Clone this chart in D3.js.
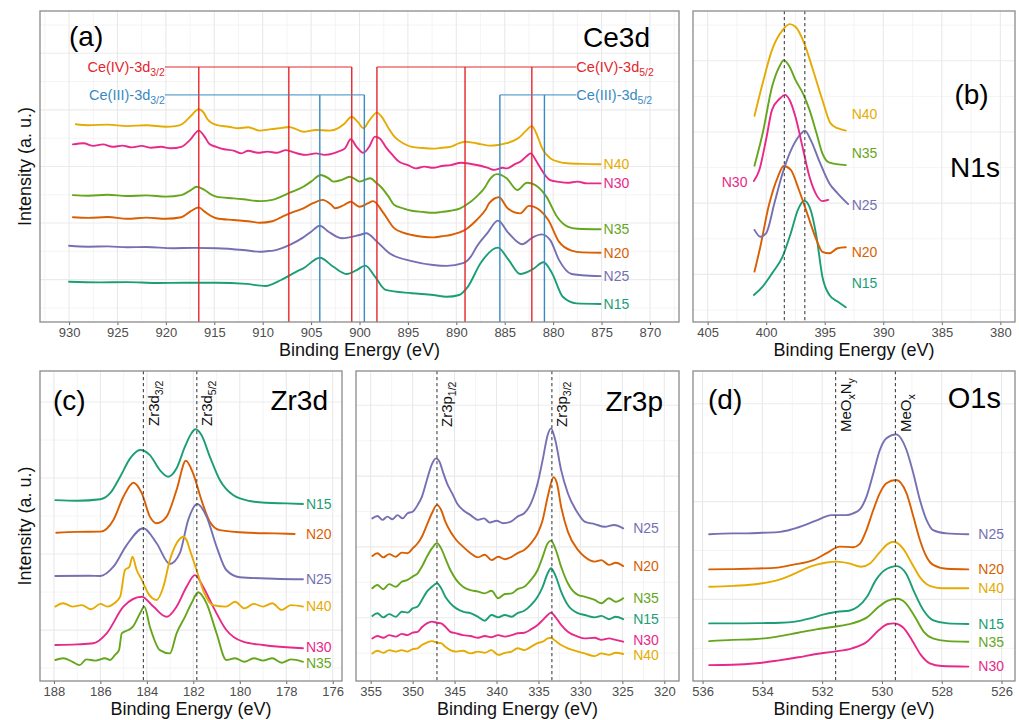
<!DOCTYPE html>
<html>
<head>
<meta charset="utf-8">
<script src="https://cdn.jsdelivr.net/npm/d3@7"></script>
<style>
  body { margin: 0; background: #fff; }
  svg { display: block; }
  text { font-family: "Liberation Sans", Arial, Helvetica, sans-serif; }
</style>
</head>
<body>
<svg id="fig" width="1019" height="720"></svg>
<script>
// ---------- samples ----------
const samples = ["N15", "N20", "N25", "N30", "N35", "N40"];

// ---------- tick labels (binding energy, eV) ----------
const ticksCe3d = [930, 925, 920, 915, 910, 905, 900, 895, 890, 885, 880, 875, 870];
const ticksN1s  = [405, 400, 395, 390, 385, 380];
const ticksZr3d = [188, 186, 184, 182, 180, 178, 176];
const ticksZr3p = [355, 350, 345, 340, 335, 330, 325, 320];
const ticksO1s  = [536, 534, 532, 530, 528, 526];

// ---------- Ce3d spectra [binding energy, stacked intensity] ----------
const ce3dN40 = [[929.3,65.9],[928,65.6],[926,65.8],[924,65.3],[922,65.6],[920,65.1],[919,65.3],[918.3,66.0],[917.5,68.4],[916.6,70.9],[916.1,69.8],[915.7,67.6],[914.8,65.7],[913.5,65.1],[912.5,64.6],[911.5,64.9],[910.3,63.8],[909.3,64.2],[908,64.7],[907.3,65.0],[906.5,64.2],[905.8,63.4],[904.5,64.0],[903.1,63.8],[902.2,64.6],[901.6,66.0],[900.8,68.4],[900.2,66.8],[899.6,64.6],[899.0,67.1],[898.2,69.8],[897.7,68.4],[897.0,64.6],[896.4,61.8],[895.5,59.6],[894.6,58.4],[893.5,58.0],[892.4,57.8],[891.5,58.1],[890.6,58.4],[889.7,59.6],[889.0,60.1],[888.3,59.8],[887.5,59.3],[886.6,58.8],[885.7,59.0],[884.8,59.6],[883.9,60.7],[883.4,61.8],[882.8,63.8],[882.2,65.3],[881.6,61.8],[881.2,58.4],[880.3,54.6],[879.4,53.4],[878.5,52.9],[877,52.7],[875.1,52.6]];
const ce3dN30 = [[929.6,59.2],[928.5,59.6],[927.5,58.7],[926.5,59.2],[925.5,58.4],[924.5,58.8],[923.5,58.2],[922.5,58.7],[921.5,58.1],[920.5,58.4],[919.5,57.9],[918.4,58.4],[917.5,60.7],[916.6,63.8],[916.0,61.8],[915.5,59.3],[914.8,58.4],[914,57.6],[913,57.1],[912.2,56.2],[911.5,57.1],[910.5,56.4],[909.5,56.8],[908.5,56.4],[907.6,57.3],[907,56.8],[906.2,56.0],[905.5,55.7],[904.5,56.2],[903.6,55.7],[902.7,56.2],[902.2,56.8],[901.5,57.9],[900.9,60.9],[900.3,58.4],[899.6,56.4],[899.0,58.4],[898.4,61.8],[897.9,61.2],[897.3,58.4],[896.6,55.7],[895.9,53.4],[895,52.3],[894.2,51.2],[893.3,51.8],[892.4,51.4],[891.5,52.0],[890.6,52.3],[889.5,53.1],[888.5,52.7],[887.5,52.1],[886.6,51.2],[886.1,50.7],[885.2,51.4],[884.8,51.2],[883.9,52.7],[883.4,53.4],[882.8,55.1],[882.3,56.2],[881.8,54.0],[881.4,51.8],[880.3,47.3],[879.4,46.7],[878.5,46.4],[877.5,46.8],[876.5,46.2],[875.1,46.2]];
const ce3dN35 = [[929.6,42.3],[928,42.1],[926,42.4],[924,42.0],[922,42.2],[920,41.8],[918.4,42.3],[917.5,43.8],[916.8,45.1],[916.0,44.0],[915.2,42.3],[914.8,41.8],[913,41.2],[912,40.9],[910.3,40.3],[909,40.7],[908.1,41.8],[907.2,43.1],[905.8,45.1],[905,46.8],[904.0,49.0],[903.2,47.9],[902.7,46.8],[901.9,47.3],[901.0,48.4],[900.3,47.3],[900.0,46.8],[898.9,47.9],[898.2,46.2],[897.8,45.1],[897,41.8],[896.4,39.0],[895.5,37.9],[894.6,37.1],[893.5,36.7],[892.4,36.4],[891.5,36.7],[890.6,37.1],[889.6,37.9],[889.0,39.0],[887.9,41.8],[887.0,45.1],[886.6,47.3],[885.8,49.3],[884.8,47.9],[883.7,44.0],[882.7,46.4],[881.6,45.1],[880.7,41.8],[879.6,35.1],[878.5,31.8],[877.5,31.1],[875.1,30.9]];
const ce3dN20 = [[929.6,34.9],[928,34.7],[926,35.0],[924,34.4],[922,34.8],[920,34.4],[918.4,34.9],[917.5,36.8],[916.6,38.2],[916.0,36.8],[915.2,35.1],[914.8,34.6],[913,34.0],[911.5,33.6],[910.3,33.1],[909,33.6],[908.1,34.9],[907.2,36.2],[905.8,37.9],[904.8,39.6],[903.8,40.7],[903.0,39.3],[902.5,37.9],[901.6,39.0],[900.9,40.1],[900.0,38.4],[899.1,39.6],[898.6,40.3],[897.5,36.2],[896.4,31.2],[895.5,29.8],[894.6,29.0],[893.5,28.4],[892.4,28.2],[891.5,28.6],[890.6,29.0],[889.0,30.9],[887.9,34.0],[887.0,37.3],[886.6,39.6],[885.6,41.6],[884.7,37.9],[883.4,36.2],[882.5,38.7],[881.4,37.3],[880.5,34.0],[879.4,26.8],[878.1,23.8],[877,23.2],[875.1,23.1]];
const ce3dN25 = [[930,25.4],[928,25.1],[926,25.2],[924,24.9],[922,25.0],[919.3,24.6],[917,24.7],[914.8,24.6],[912,24.0],[910.3,23.4],[909.6,23.6],[908.9,23.8],[907.2,25.7],[905.8,28.2],[905,30.1],[904.1,32.1],[903.2,30.1],[901.8,27.9],[900.0,29.0],[899.3,29.6],[898.2,26.8],[896.9,22.9],[894.6,20.3],[892.4,19.0],[891.0,18.7],[889.3,19.6],[888.5,21.8],[887.9,25.1],[886.8,29.6],[885.7,33.8],[884.6,29.6],[883.2,25.9],[882.1,28.2],[881.2,29.2],[880.3,27.3],[879.4,20.7],[878.1,16.0],[877,15.6],[875.1,15.3]];
const ce3dN15 = [[930,13.4],[927,13.2],[924,13.3],[921,13.0],[918,13.1],[914.8,13.1],[911.7,12.7],[909.7,12.0],[908.1,14.0],[906.5,16.8],[905.8,17.9],[904.1,21.4],[902.7,18.4],[901.3,16.0],[900.3,17.3],[899.4,18.8],[898.4,15.1],[897.3,10.7],[894.6,9.6],[892.4,9.0],[891.0,8.4],[889.7,9.0],[888.8,11.8],[887.5,19.6],[885.7,24.8],[884.6,20.7],[883.4,16.0],[882.1,17.6],[881.0,19.9],[880.1,16.2],[879.0,8.4],[877.6,6.2],[875.1,6.0]];

// ---------- N1s spectra ----------
const n1sN40 = [[401.0,68.7],[400.3,79.6],[399.5,90.7],[398.6,97.3],[398.0,99.3],[397.5,98.4],[396.75,92.9],[396.0,84.0],[395.2,74.0],[394.5,66.2],[393.9,64.6],[393.2,63.8]];
const n1sN35 = [[401.0,52.1],[400.3,62.9],[399.5,78.4],[398.8,85.7],[398.5,87.3],[398.0,85.1],[397.5,80.7],[396.8,75.7],[396.3,70.7],[395.7,62.9],[395.2,56.2],[394.6,53.1],[393.2,52.3]];
const n1sN30 = [[401.05,47.0],[400.6,50.5],[400.0,61.0],[399.5,70.7],[398.8,74.6],[398.4,75.7],[398.0,74.0],[397.5,68.4],[396.9,58.4],[396.3,48.4],[395.7,42.3],[395.2,40.3],[394.7,40.7]];
const n1sN25 = [[401.0,30.7],[400.5,28.4],[400.0,29.6],[399.3,39.6],[398.6,49.6],[397.75,58.4],[397.0,62.9],[396.7,63.8],[396.2,60.7],[395.5,54.0],[394.6,46.2],[393.9,42.9],[393.0,39.3]];
const n1sN20 = [[401.0,16.8],[400.5,25.1],[399.8,38.4],[399.0,48.4],[398.5,52.0],[397.9,50.7],[397.2,44.0],[396.5,36.2],[395.7,27.3],[395.2,23.4],[394.6,22.9],[393.9,24.6],[393.2,24.9]];
const n1sN15 = [[401.05,9.0],[400.3,11.8],[399.5,16.2],[398.6,21.8],[397.9,29.6],[397.3,37.3],[396.75,40.4],[396.3,38.4],[395.7,28.4],[395.2,15.1],[394.6,9.0],[393.9,6.8],[393.2,4.9]];

// ---------- Zr3d spectra ----------
const zr3dN15 = [[187.94,60.3],[187.0,60.1],[186.0,60.6],[185.58,62.6],[185.15,68.1],[184.72,74.2],[184.29,77.0],[183.87,75.3],[183.44,70.3],[183.08,68.1],[182.72,70.9],[182.36,78.1],[182.08,82.6],[181.91,83.9],[181.65,82.0],[181.29,74.8],[180.86,67.0],[180.29,62.0],[179.57,60.0],[178.86,59.4],[178.0,59.2],[177.28,59.0]];
const zr3dN20 = [[187.9,49.4],[187.0,49.7],[186.0,49.8],[185.44,53.7],[185.01,61.4],[184.58,66.1],[184.22,62.6],[183.87,54.8],[183.58,52.6],[183.15,54.8],[182.72,63.7],[182.32,73.4],[182.01,69.2],[181.65,60.3],[181.29,53.1],[180.86,50.3],[179.57,49.4],[178.5,49.2],[177.64,49.0]];
const zr3dN25 = [[187.94,35.0],[186.5,35.1],[186.01,35.0],[185.44,38.1],[184.87,45.3],[184.15,50.9],[183.58,45.9],[183.01,39.0],[182.58,42.6],[182.22,53.7],[181.83,59.0],[181.43,54.8],[181.0,44.8],[180.58,37.0],[180.0,34.6],[178.5,34.1],[177.28,33.9]];
const zr3dN40 = [[187.94,24.8],[187.6,25.9],[187.2,24.8],[186.8,25.3],[186.4,23.9],[186.0,25.7],[185.7,24.8],[185.4,25.9],[185.15,28.1],[184.94,37.0],[184.75,38.1],[184.62,41.4],[184.44,37.0],[184.22,33.7],[183.94,29.2],[183.58,27.0],[183.29,31.4],[183.01,40.3],[182.72,45.9],[182.43,48.1],[182.29,47.0],[182.15,43.7],[181.86,37.0],[181.58,30.3],[181.15,25.3],[180.6,24.8],[180.2,26.4],[179.8,24.2],[179.4,25.7],[179.0,24.8],[178.6,25.9],[178.2,23.7],[177.8,25.3],[177.28,24.8]];
const zr3dN30 = [[187.94,12.0],[187.0,12.2],[186.3,12.6],[185.73,15.9],[185.01,24.8],[184.22,28.1],[183.72,24.8],[183.15,21.4],[182.72,24.8],[182.29,31.4],[181.93,35.3],[181.58,31.4],[181.15,24.8],[180.58,17.0],[179.86,13.1],[179.0,12.0],[177.28,10.9]];
const zr3dN35 = [[187.94,7.0],[187.6,7.6],[187.2,6.4],[186.9,5.3],[186.6,7.2],[186.2,6.8],[185.8,7.6],[185.58,7.0],[185.37,8.7],[185.2,10.3],[185.08,15.9],[184.8,17.0],[184.6,18.1],[184.29,22.6],[184.11,24.8],[183.87,18.1],[183.44,10.3],[183.01,9.2],[182.72,15.9],[182.36,21.4],[182.08,25.9],[181.79,29.6],[181.43,25.9],[181.0,15.9],[180.58,7.0],[180.2,7.6],[179.8,6.4],[179.4,7.6],[179.0,6.8],[178.6,7.6],[178.2,6.1],[177.8,7.2],[177.28,6.4]];

// ---------- Zr3p spectra ----------
const zr3pN25 = [[354.8,54.2],[354.2,55.0],[353.6,53.7],[353.0,54.8],[352.4,53.9],[351.8,55.3],[351.2,54.2],[350.6,55.9],[350.0,56.4],[349.4,58.7],[348.9,61.4],[348.3,67.0],[347.7,72.3],[347.2,74.2],[346.8,73.1],[346.4,69.8],[345.9,65.9],[345.3,62.6],[344.7,59.2],[344.0,57.0],[343.1,55.3],[342.2,53.7],[341.5,54.2],[340.8,52.8],[340.0,53.4],[339.2,52.6],[338.3,53.1],[337.5,54.8],[336.7,55.9],[335.9,59.2],[335.1,65.9],[334.5,73.7],[333.9,82.0],[333.5,84.2],[333.0,80.3],[332.3,70.3],[331.5,62.6],[330.3,55.9],[329.5,53.1],[328.3,52.3],[327.1,51.4],[326.0,52.0],[324.9,50.9]];
const zr3pN20 = [[354.8,41.7],[354.2,42.6],[353.5,41.2],[352.8,42.3],[352.0,41.4],[351.3,42.8],[350.6,42.6],[350.0,44.2],[349.4,45.9],[348.9,48.1],[348.3,52.0],[347.7,55.9],[347.1,58.7],[346.6,57.0],[346.1,53.1],[345.5,49.8],[344.8,47.0],[344.0,44.8],[343.1,42.6],[342.2,41.2],[341.4,42.1],[340.6,40.3],[339.8,41.4],[339.0,40.6],[338.2,41.4],[337.5,42.6],[336.7,43.7],[335.9,45.9],[335.1,49.2],[334.5,53.7],[333.9,61.4],[333.2,67.9],[332.8,65.9],[332.3,58.1],[331.5,49.8],[330.3,43.7],[329.5,41.4],[328.3,39.8],[327.5,40.3],[326.6,38.7],[325.8,39.4],[324.9,38.3]];
const zr3pN35 = [[354.8,30.9],[354.2,32.0],[353.5,30.6],[352.8,32.3],[352.0,31.4],[351.3,33.1],[350.6,33.7],[350.0,34.8],[349.4,35.9],[348.9,38.1],[348.3,41.4],[347.7,44.2],[347.1,45.9],[346.6,44.2],[346.1,40.9],[345.5,37.0],[344.8,33.7],[344.0,31.4],[343.1,30.3],[342.2,29.8],[341.4,29.2],[340.6,30.1],[339.8,27.6],[339.0,29.0],[338.2,29.2],[337.5,30.6],[336.7,31.4],[335.9,33.7],[335.1,37.0],[334.5,41.4],[333.9,45.9],[333.5,46.8],[333.0,44.2],[332.3,38.1],[331.5,32.6],[330.3,28.7],[329.5,28.1],[328.3,27.0],[327.5,25.9],[326.6,27.6],[325.8,26.4],[324.9,27.6]];
const zr3pN15 = [[354.8,21.7],[354.2,22.6],[353.5,21.2],[352.8,22.3],[352.0,21.4],[351.3,23.1],[350.6,22.8],[350.0,24.2],[349.4,24.8],[348.9,27.0],[348.3,29.8],[347.7,31.4],[347.1,32.6],[346.6,30.9],[346.1,28.1],[345.5,25.9],[344.8,24.2],[344.0,23.1],[343.1,22.6],[342.2,21.4],[341.4,20.1],[340.6,22.0],[339.8,21.2],[339.0,22.0],[338.2,21.4],[337.5,22.6],[336.7,23.4],[335.9,25.3],[335.1,28.1],[334.5,31.4],[333.9,35.9],[333.5,37.6],[333.0,35.3],[332.3,29.8],[331.5,25.3],[330.3,22.6],[329.5,22.0],[328.3,21.2],[327.5,21.7],[326.6,20.6],[325.8,21.4],[324.9,20.6]];
const zr3pN30 = [[354.8,14.2],[354.2,15.0],[353.5,14.4],[352.8,15.3],[352.0,14.8],[351.3,15.7],[350.6,15.3],[350.0,16.1],[349.4,16.4],[348.9,17.9],[348.3,19.2],[347.7,19.8],[347.1,19.4],[346.6,19.2],[346.1,18.1],[345.5,16.4],[344.8,15.9],[344.0,15.3],[343.1,15.0],[342.2,14.4],[341.4,15.0],[340.6,14.6],[339.8,15.3],[339.0,14.8],[338.2,15.3],[337.5,15.9],[336.7,16.1],[335.9,17.2],[335.1,18.7],[334.5,20.3],[333.9,22.0],[333.5,22.8],[333.0,21.4],[332.3,18.7],[331.5,16.4],[330.3,14.8],[329.5,14.2],[328.3,14.4],[327.5,13.7],[326.6,14.2],[325.8,13.7],[324.9,13.1]];
const zr3pN40 = [[354.8,9.2],[354.2,10.1],[353.5,9.4],[352.8,10.3],[352.0,9.8],[351.3,10.3],[350.6,9.8],[350.0,10.6],[349.4,10.9],[348.9,12.0],[348.3,12.8],[347.7,13.3],[347.1,12.8],[346.6,12.6],[346.1,11.4],[345.5,10.3],[344.8,9.8],[344.0,10.1],[343.1,9.2],[342.2,9.8],[341.4,9.4],[340.6,10.3],[339.8,8.7],[339.0,9.4],[338.2,9.8],[337.5,10.9],[336.7,10.3],[335.9,11.4],[335.1,12.6],[334.5,13.1],[333.9,14.2],[333.5,14.4],[333.0,13.4],[332.3,12.0],[331.5,10.9],[330.3,9.8],[329.5,9.2],[328.3,8.3],[327.5,9.2],[326.6,8.7],[325.8,9.4],[324.9,9.0]];

// ---------- O1s spectra ----------
const o1sN25 = [[535.78,48.9],[535.0,49.2],[534.5,49.2],[534.0,49.4],[533.4,49.7],[533.0,50.6],[532.5,52.3],[532.1,53.9],[531.7,55.3],[531.2,55.3],[530.96,55.9],[530.74,57.2],[530.52,61.4],[530.29,69.2],[530.07,77.0],[529.85,80.9],[529.53,82.2],[529.18,77.0],[528.95,69.2],[528.73,60.3],[528.51,53.7],[528.29,50.3],[527.84,49.2],[527.11,48.9]];
const o1sN20 = [[535.78,37.2],[535.0,37.3],[534.5,37.4],[533.5,37.8],[533.0,38.7],[532.3,40.3],[531.85,42.6],[531.41,44.8],[530.96,44.6],[530.74,45.7],[530.52,50.3],[530.29,57.0],[530.07,62.6],[529.85,65.9],[529.53,67.0],[529.18,62.6],[528.95,54.8],[528.73,47.0],[528.51,41.4],[528.29,38.7],[527.84,37.4],[527.11,37.2]];
const o1sN40 = [[535.78,31.4],[535.0,31.7],[534.5,32.0],[534.0,32.6],[533.4,33.9],[532.9,35.9],[532.4,38.1],[531.9,39.4],[531.5,39.8],[531.1,39.2],[530.7,38.1],[530.4,39.2],[530.1,42.6],[529.8,45.7],[529.6,46.4],[529.3,44.2],[529.0,39.2],[528.7,34.2],[528.4,31.7],[528.0,30.9],[527.11,30.9]];
const o1sN15 = [[535.78,19.2],[535.0,19.2],[534.0,19.3],[533.4,19.4],[532.9,19.8],[532.4,20.9],[531.9,22.3],[531.5,23.1],[531.1,23.4],[530.8,24.8],[530.5,28.1],[530.2,33.7],[529.9,37.0],[529.5,38.3],[529.2,35.9],[528.9,29.2],[528.6,23.4],[528.3,20.3],[527.8,19.2],[527.11,19.0]];
const o1sN35 = [[535.78,13.3],[535.0,13.7],[534.3,13.9],[533.5,14.8],[532.8,16.1],[532.2,17.2],[531.6,18.1],[531.0,19.2],[530.5,21.2],[530.1,24.8],[529.8,26.8],[529.5,27.4],[529.2,25.9],[528.9,21.4],[528.6,16.4],[528.3,14.2],[527.8,13.3],[527.11,13.1]];
const o1sN30 = [[535.78,5.3],[535.0,5.4],[534.2,5.9],[533.5,6.8],[532.8,7.9],[532.2,9.0],[531.6,9.8],[531.0,10.9],[530.5,13.1],[530.1,17.0],[529.8,19.0],[529.6,19.2],[529.3,17.9],[529.0,13.7],[528.7,8.7],[528.4,5.9],[528.0,5.0],[527.11,4.8]];

// ---------- reference energies (eV) ----------
const ce4Low  = [916.6, 907.3, 900.8];   // Ce(IV) 3d3/2 components
const ce4High = [898.2, 889.1, 882.2];   // Ce(IV) 3d5/2 components
const ce3Low  = [904.1, 899.5];          // Ce(III) 3d3/2 components
const ce3High = [885.5, 880.9];          // Ce(III) 3d5/2 components
const n1sRefs  = [398.45, 396.7];
const zr3dRefs = [184.15, 181.85];
const zr3pRefs = [347.1, 333.4];
const o1sRefs  = [531.55, 529.55];

// N1s sample tags: [sample, energy, intensity]
const n1sTags = [["N40",392.7,69.3],["N35",392.7,56.3],["N30",401.6,46.7],["N25",392.7,39.0],["N20",392.7,23.3],["N15",392.7,13.0]];

// ---------- styling ----------
const palette = { N15:"#1B9E77", N20:"#D95F02", N25:"#7570B3", N30:"#E7298A", N35:"#66A61E", N40:"#E6AB02" };
const RED = "#e4262c", BLUE = "#3a89c1";
const TAG_SIZE = 14, TAG_MIN_GAP = 15.5;
const fig = d3.select("#fig");
fig.append("rect").attr("width", 1019).attr("height", 720).attr("fill", "#fff");

function group(set) {
  return { N15: set.N15, N20: set.N20, N25: set.N25, N30: set.N30, N35: set.N35, N40: set.N40 };
}

// writes text with subscript parts: parts = [[string, isSub], ...]
function rich(text, parts, subSize) {
  let down = false;
  parts.forEach(([s, sub]) => {
    const t = text.append("tspan").text(s);
    if (sub) {
      t.attr("font-size", subSize);
      if (!down) { t.attr("dy", subSize * 0.38); down = true; }
    } else if (down) {
      t.attr("dy", -subSize * 0.38); down = false;
    }
  });
}

// pushes stacked end tags apart so neighbouring names stay readable
function spreadTags(items) {
  const sorted = items.slice().sort((a, b) => a.py - b.py);
  for (let pass = 0; pass < 6; pass++) {
    for (let i = 1; i < sorted.length; i++) {
      const d = sorted[i].py - sorted[i - 1].py;
      if (d < TAG_MIN_GAP) {
        const push = (TAG_MIN_GAP - d) / 2;
        sorted[i].py += push;
        sorted[i - 1].py -= push;
      }
    }
  }
  return items;
}

function drawPanel(cfg) {
  const [x0, y0, x1, y1] = cfg.box;
  const x = d3.scaleLinear().domain(cfg.xDomain).range([x0, x1]);
  const y = d3.scaleLinear().domain(cfg.yDomain).range([y1, y0]);
  const g = fig.append("g");
  const lo = Math.min(...cfg.xDomain), hi = Math.max(...cfg.xDomain);
  const step = Math.abs(cfg.xTicks[1] - cfg.xTicks[0]);

  // grid
  const minorX = d3.range(Math.min(...cfg.xTicks) - step / 2, Math.max(...cfg.xTicks) + step, step)
    .filter(v => v > lo && v < hi);
  g.append("g").selectAll("line").data(minorX).join("line")
    .attr("x1", d => x(d)).attr("x2", d => x(d)).attr("y1", y0).attr("y2", y1)
    .attr("stroke", "#f1f1f1").attr("stroke-width", 0.8);
  const hLines = d3.range(cfg.hGrid[0], cfg.yDomain[1], cfg.hGrid[1]);
  g.append("g").selectAll("line").data(hLines).join("line")
    .attr("x1", x0).attr("x2", x1).attr("y1", d => y(d)).attr("y2", d => y(d))
    .attr("stroke", (d, i) => i % 2 ? "#ebebeb" : "#f1f1f1").attr("stroke-width", (d, i) => i % 2 ? 1.1 : 0.8);
  g.append("g").selectAll("line").data(cfg.xTicks.filter(v => v > lo && v < hi)).join("line")
    .attr("x1", d => x(d)).attr("x2", d => x(d)).attr("y1", y0).attr("y2", y1)
    .attr("stroke", "#e9e9e9").attr("stroke-width", 1.1);

  // spectra
  const line = d3.line().x(d => x(d[0])).y(d => y(d[1])).curve(d3.curveMonotoneX);
  samples.forEach(n => {
    g.append("path").attr("d", line(cfg.spectra[n])).attr("fill", "none")
      .attr("stroke", palette[n]).attr("stroke-width", 1.9)
      .attr("stroke-linejoin", "round").attr("stroke-linecap", "round");
  });

  // sample tags
  let tags;
  if (cfg.tags) {
    tags = cfg.tags.map(([n, e, v]) => ({ n, px: x(e), py: y(v), anchor: e > 400 ? "end" : "start" }));
  } else {
    const endE = d3.min(samples, n => cfg.spectra[n][cfg.spectra[n].length - 1][0]);
    tags = samples.map(n => {
      const s = cfg.spectra[n];
      return { n, px: x(endE) + cfg.tagGap, py: y(s[s.length - 1][1]), anchor: "start" };
    });
    spreadTags(tags);
  }
  tags.forEach(t => {
    g.append("text").attr("x", t.px).attr("y", t.py).attr("dy", "0.35em")
      .attr("text-anchor", t.anchor).attr("font-size", TAG_SIZE).attr("fill", palette[t.n]).text(t.n);
  });

  if (cfg.extra) cfg.extra(g, x, y);

  // dashed reference lines with rotated labels
  if (cfg.refs) {
    cfg.refs.forEach((e, i) => {
      g.append("line").attr("x1", x(e)).attr("x2", x(e)).attr("y1", y0).attr("y2", y1)
        .attr("stroke", "#444").attr("stroke-width", 1.1).attr("stroke-dasharray", "3.2,2.8");
      if (cfg.refLabels) {
        const t = g.append("text")
          .attr("transform", `translate(${x(e) + 15.5},${cfg.refLabelY}) rotate(-90)`)
          .attr("text-anchor", "start").attr("font-size", 15).attr("fill", "#111");
        rich(t, cfg.refLabels[i], 10.5);
      }
    });
  }

  // axis
  const ax = g.append("g").attr("transform", `translate(0,${y1})`)
    .call(d3.axisBottom(x).tickValues(cfg.xTicks).tickSize(3).tickPadding(2.5));
  ax.select(".domain").remove();
  ax.selectAll(".tick line").attr("stroke", "#555").attr("stroke-width", 0.9);
  ax.selectAll(".tick text").attr("font-size", 13).attr("fill", "#4d4d4d")
    .attr("font-family", '"Liberation Sans", Arial, Helvetica, sans-serif');

  // border
  g.append("rect").attr("x", x0).attr("y", y0).attr("width", x1 - x0).attr("height", y1 - y0)
    .attr("fill", "none").attr("stroke", "#8a8a8a").attr("stroke-width", 1.3);

  // axis title
  g.append("text").attr("x", (x0 + x1) / 2).attr("y", y1 + 33.5).attr("text-anchor", "middle")
    .attr("font-size", 18).attr("fill", "#111").text("Binding Energy (eV)");

  (cfg.notes || []).forEach(nt => {
    g.append("text").attr("x", nt[1]).attr("y", nt[2]).attr("text-anchor", nt[3])
      .attr("font-size", nt[4] || 28).attr("fill", "#000").text(nt[0]);
  });
}

// Ce3d satellite brackets
function ceBrackets(g, x, y) {
  const sets = [
    { low: ce4Low, high: ce4High, level: 85.0, color: RED, name: "Ce(IV)-3d" },
    { low: ce3Low, high: ce3High, level: 75.7, color: BLUE, name: "Ce(III)-3d" }
  ];
  const leftEnd = 920.1, rightEnd = 877.6;
  sets.forEach(s => {
    const ly = y(s.level);
    g.append("line").attr("x1", x(leftEnd)).attr("x2", x(d3.min(s.low))).attr("y1", ly).attr("y2", ly)
      .attr("stroke", s.color).attr("stroke-width", 1);
    g.append("line").attr("x1", x(d3.max(s.high))).attr("x2", x(rightEnd)).attr("y1", ly).attr("y2", ly)
      .attr("stroke", s.color).attr("stroke-width", 1);
    s.low.concat(s.high).forEach(e => {
      g.append("line").attr("x1", x(e)).attr("x2", x(e)).attr("y1", ly).attr("y2", y(0))
        .attr("stroke", s.color).attr("stroke-width", 1.4);
    });
    const tl = g.append("text").attr("x", x(leftEnd)).attr("y", ly + 5).attr("text-anchor", "end")
      .attr("font-size", 14.5).attr("fill", s.color);
    rich(tl, [[s.name], ["3/2", true]], 10.5);
    const tr = g.append("text").attr("x", x(rightEnd)).attr("y", ly + 5).attr("text-anchor", "start")
      .attr("font-size", 14.5).attr("fill", s.color);
    rich(tr, [[s.name], ["5/2", true]], 10.5);
  });
}

const topY = [0, 103.67], botY = [0, 103.33];

drawPanel({
  box: [40, 11, 679, 322], xDomain: [933, 867], xTicks: ticksCe3d, yDomain: topY, hGrid: [4.7, 9.43],
  spectra: group({ N15: ce3dN15, N20: ce3dN20, N25: ce3dN25, N30: ce3dN30, N35: ce3dN35, N40: ce3dN40 }),
  tagGap: 3, extra: ceBrackets,
  notes: [["(a)", 69, 46, "start"], ["Ce3d", 650, 47, "end"]]
});
drawPanel({
  box: [693, 11, 1015, 322], xDomain: [406.25, 378.75], xTicks: ticksN1s, yDomain: topY, hGrid: [4, 11.87],
  spectra: group({ N15: n1sN15, N20: n1sN20, N25: n1sN25, N30: n1sN30, N35: n1sN35, N40: n1sN40 }),
  tags: n1sTags, refs: n1sRefs,
  notes: [["(b)", 971.5, 104, "middle"], ["N1s", 975, 177, "middle"]]
});
drawPanel({
  box: [40, 371, 342, 681], xDomain: [188.6, 175.6], xTicks: ticksZr3d, yDomain: botY, hGrid: [4.3, 12.67],
  spectra: group({ N15: zr3dN15, N20: zr3dN20, N25: zr3dN25, N30: zr3dN30, N35: zr3dN35, N40: zr3dN40 }),
  tagGap: 3, refs: zr3dRefs, refLabelY: 426,
  refLabels: [[["Zr3d"], ["3/2", true]], [["Zr3d"], ["5/2", true]]],
  notes: [["(c)", 53, 410, "start"], ["Zr3d", 328, 410, "end"]]
});
drawPanel({
  box: [356, 371, 679, 681], xDomain: [356.75, 318.25], xTicks: ticksZr3p, yDomain: botY, hGrid: [9.3, 11.8],
  spectra: group({ N15: zr3pN15, N20: zr3pN20, N25: zr3pN25, N30: zr3pN30, N35: zr3pN35, N40: zr3pN40 }),
  tagGap: 10, refs: zr3pRefs, refLabelY: 427,
  refLabels: [[["Zr3p"], ["1/2", true]], [["Zr3p"], ["3/2", true]]],
  notes: [["Zr3p", 663, 411, "end"]]
});
drawPanel({
  box: [693, 371, 1015, 681], xDomain: [536.32, 525.55], xTicks: ticksO1s, yDomain: botY, hGrid: [10.9, 16.3],
  spectra: group({ N15: o1sN15, N20: o1sN20, N25: o1sN25, N30: o1sN30, N35: o1sN35, N40: o1sN40 }),
  tagGap: 10, refs: o1sRefs, refLabelY: 432,
  refLabels: [[["MeO"], ["x", true], ["N"], ["y", true]], [["MeO"], ["x", true]]],
  notes: [["(d)", 708, 409, "start"], ["O1s", 1001, 408, "end", 29]]
});

// y-axis titles
[[30.5, 166.5], [30.5, 526]].forEach(([px, py]) => {
  fig.append("text").attr("transform", `translate(${px},${py}) rotate(-90)`)
    .attr("text-anchor", "middle").attr("font-size", 18).attr("fill", "#111").text("Intensity (a. u.)");
});
</script>
</body>
</html>
